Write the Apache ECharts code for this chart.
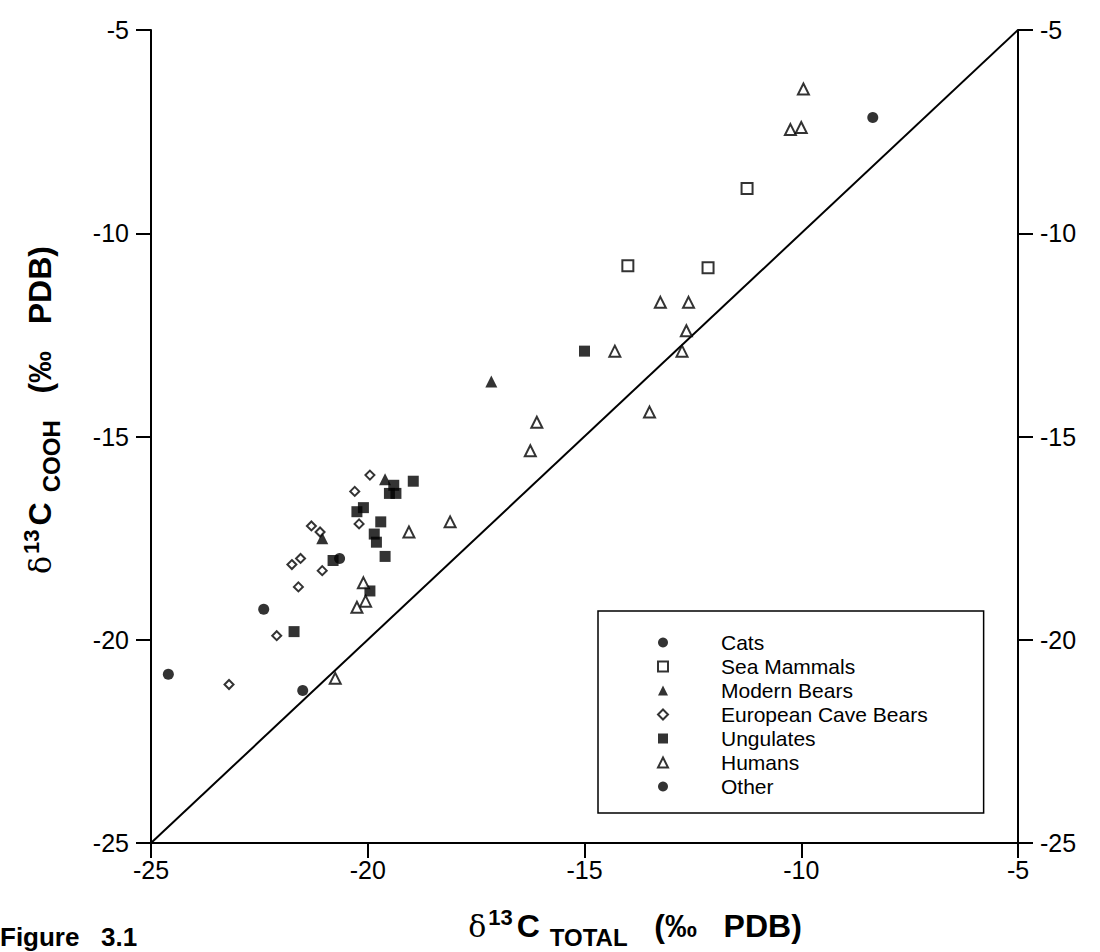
<!DOCTYPE html>
<html>
<head>
<meta charset="utf-8">
<style>
  html, body { margin: 0; padding: 0; background: #fff; }
  #chart { width: 1100px; height: 952px; }
</style>
<script src="https://cdn.jsdelivr.net/npm/echarts@6/dist/echarts.min.js"></script>
</head>
<body>
<div id="chart"></div>
<script>
// ---- data (δ13C total, δ13C COOH), ‰ PDB ----
const seriesNames = ['Cats', 'Sea Mammals', 'Modern Bears', 'European Cave Bears', 'Ungulates', 'Humans', 'Other'];
const cats = [[-24.6, -20.85], [-22.4, -19.25], [-21.5, -21.25], [-20.65, -18.0]];
const seaMammals = [[-11.25, -8.9], [-14.0, -10.8], [-12.15, -10.85]];
const modernBears = [[-17.15, -13.65], [-19.6, -16.05], [-21.05, -17.5]];
const caveBears = [[-19.95, -15.95], [-20.3, -16.35], [-20.2, -17.15], [-21.3, -17.2], [-21.1, -17.35],
  [-21.55, -18.0], [-21.75, -18.15], [-21.05, -18.3], [-21.6, -18.7], [-22.1, -19.9], [-23.2, -21.1]];
const ungulates = [[-19.4, -16.2], [-19.5, -16.4], [-19.35, -16.4], [-18.95, -16.1], [-20.25, -16.85],
  [-20.1, -16.75], [-19.7, -17.1], [-19.85, -17.4], [-19.8, -17.6], [-19.6, -17.95], [-20.8, -18.05],
  [-19.95, -18.8], [-21.7, -19.8], [-15.0, -12.9]];
const humans = [[-19.05, -17.35], [-18.1, -17.1], [-20.1, -18.6], [-20.05, -19.05], [-20.25, -19.2],
  [-20.75, -20.95], [-13.25, -11.7], [-12.6, -11.7], [-12.65, -12.4], [-12.75, -12.9], [-14.3, -12.9],
  [-16.1, -14.65], [-16.25, -15.35], [-13.5, -14.4], [-9.95, -6.45], [-10.25, -7.45], [-10.0, -7.4]];
const other = [[-8.35, -7.15]];
const oneToOne = [[-25, -25], [-5, -5]];
const axisMin = -25, axisMax = -5, axisStep = 5;

const FONT = '"Liberation Sans", Arial, Helvetica, sans-serif';
const chart = echarts.init(document.getElementById('chart'), null, { renderer: 'svg' });

const filled = { color: '#000' };
const open = { color: '#fff', borderColor: '#000', borderWidth: 2 };
function sc(name, data, symbol, size, style) {
  return { name, type: 'scatter', data, symbol, symbolSize: size, itemStyle: style,
    emphasis: { disabled: true }, z: 3 };
}

const axisCommon = {
  type: 'value', min: axisMin, max: axisMax, interval: axisStep,
  splitLine: { show: false },
  axisLine: { show: true, onZero: false, lineStyle: { color: '#000', width: 2 } },
  axisTick: { show: true, inside: false, length: 15, lineStyle: { color: '#000', width: 2 } },
  axisLabel: { color: '#000', fontFamily: FONT, fontSize: 25 }
};

function titleRich() {
  const base = { fontFamily: FONT, fontWeight: 'bold', fill: '#000', lineHeight: 46 };
  return {
    d: { fontFamily: '"DejaVu Serif", serif', fontSize: 30, fill: '#000', lineHeight: 46, verticalAlign: 'middle' },
    s: Object.assign({}, base, { fontSize: 22, verticalAlign: 'top', padding: [3, 4, 0, 2] }),
    c: Object.assign({}, base, { fontSize: 32, verticalAlign: 'middle' }),
    b: Object.assign({}, base, { fontSize: 24, verticalAlign: 'bottom', padding: [0, 0, 0, 10] }),
    p: Object.assign({}, base, { fontSize: 32, verticalAlign: 'middle' })
  };
}

chart.setOption({
  animation: false,
  backgroundColor: '#fff',
  grid: { left: 151, top: 30, right: 82, bottom: 109, containLabel: false },
  xAxis: Object.assign({}, axisCommon, {
    axisLabel: Object.assign({}, axisCommon.axisLabel, { margin: 14 })
  }),
  yAxis: [
    Object.assign({}, axisCommon, { position: 'left',
      axisLabel: Object.assign({}, axisCommon.axisLabel, { margin: 22 }) }),
    Object.assign({}, axisCommon, { position: 'right',
      axisLabel: Object.assign({}, axisCommon.axisLabel, { margin: 22 }) })
  ],
  legend: {
    orient: 'vertical', left: 598, top: 611,
    data: seriesNames,
    itemWidth: 10, itemHeight: 10, itemGap: 3,
    padding: [21, 56, 16, 59],
    borderColor: '#000', borderWidth: 1.5, backgroundColor: '#fff',
    selectedMode: false,
    textStyle: { color: '#000', fontFamily: FONT, fontSize: 21, padding: [0, 0, 0, 48] }
  },
  graphic: [
    { type: 'text', left: 0, top: 924, style: { text: 'Figure   3.1', fill: '#000',
      font: 'bold 26px ' + FONT } },
    { type: 'text', x: 635, y: 926, style: {
      text: '{d|δ}{s|13}{c|C}{b|TOTAL}{p|   (‰   PDB)}',
      align: 'center', verticalAlign: 'middle', rich: titleRich() } },
    { type: 'text', x: 40, y: 410, rotation: Math.PI / 2, style: {
      text: '{d|δ}{s|13}{c|C}{b|COOH}{p|   (‰   PDB)}',
      align: 'center', verticalAlign: 'middle', rich: titleRich() } }
  ],
  series: [
    { name: '1:1', type: 'line', data: oneToOne, showSymbol: false, symbol: 'none', silent: true,
      lineStyle: { color: '#000', width: 2 }, z: 2 },
    sc('Cats', cats, 'circle', 11, filled),
    sc('Sea Mammals', seaMammals, 'rect', 11, open),
    sc('Modern Bears', modernBears, 'triangle', 12, filled),
    sc('European Cave Bears', caveBears, 'diamond', 9, open),
    sc('Ungulates', ungulates, 'rect', 11, filled),
    sc('Humans', humans, 'triangle', 11, open),
    sc('Other', other, 'circle', 11, filled)
  ]
});
</script>
</body>
</html>
